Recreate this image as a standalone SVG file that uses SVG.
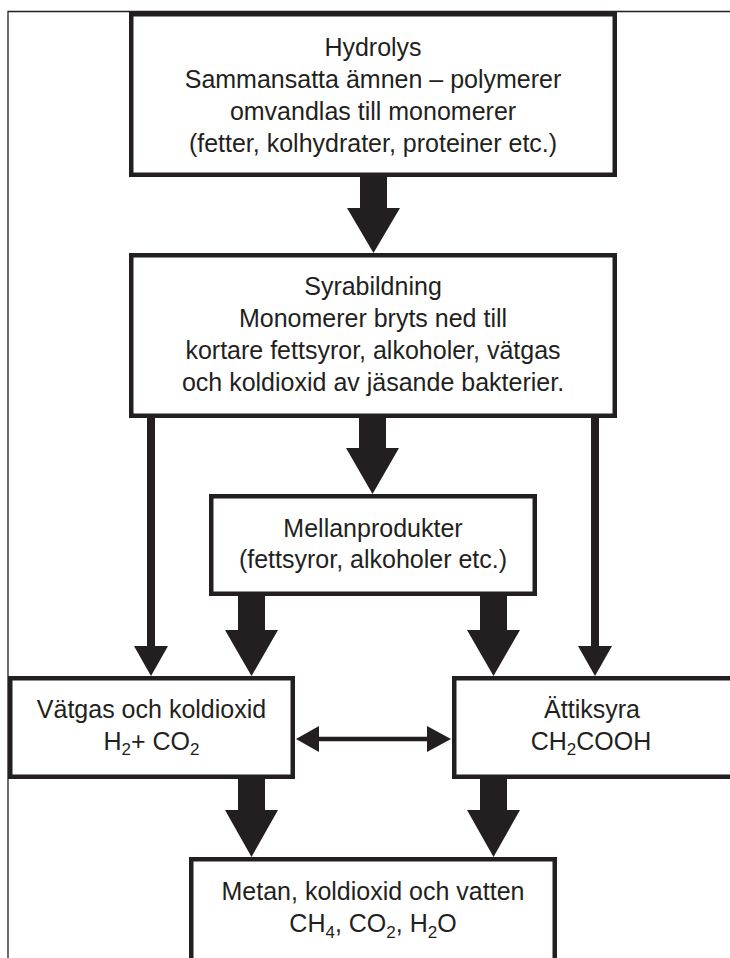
<svg xmlns="http://www.w3.org/2000/svg" width="730" height="958" viewBox="0 0 730 958">
<defs>
<style>
.box{fill:#fff;stroke:#231f20;stroke-width:4.5}
.t{font-family:'Liberation Sans',Arial,sans-serif;font-size:25px;fill:#231f20;text-anchor:middle}
.s{font-size:17px}
.ar{fill:#231f20}
.thin{stroke:#231f20;stroke-width:8;fill:none}
.frame{stroke:#231f20;stroke-width:1.3;fill:none}
</style>
</defs>
<rect width="730" height="958" fill="#fff"/>
<path class="frame" d="M8,958 V11.5 H730"/>
<g id="connectors">
<path class="ar" d="M360,177 H387 V208 H400 L373.5,253 L347,208 H360 Z"/>
<path class="ar" d="M359,418 H386 V448 H399 L372.5,494 L346,448 H359 Z"/>
<path class="ar" d="M238,596 H265 V630 H278 L251.5,676 L225,630 H238 Z"/>
<path class="ar" d="M480,596 H507 V630 H520 L493.5,676 L467,630 H480 Z"/>
<path class="ar" d="M238,779 H265 V810 H278 L251.5,857 L225,810 H238 Z"/>
<path class="ar" d="M480,779 H507 V810 H520 L493.5,857 L467,810 H480 Z"/>
<line class="thin" x1="151" y1="418" x2="151" y2="650"/>
<path class="ar" d="M134,646 H168 L151,676 Z"/>
<line class="thin" x1="595" y1="418" x2="595" y2="650"/>
<path class="ar" d="M578,646 H612 L595,676 Z"/>
<line x1="315" y1="739" x2="431" y2="739" stroke="#231f20" stroke-width="4.5"/>
<path class="ar" d="M296,739 L319,726 V752 Z"/>
<path class="ar" d="M451,739 L427,726 V752 Z"/>
</g>
<g id="hydrolys">
<rect class="box" x="131.25" y="14.25" width="483.5" height="160.5"/>
<text class="t" x="373" y="56">Hydrolys</text>
<text class="t" x="373" y="88">Sammansatta ämnen – polymerer</text>
<text class="t" x="373" y="120">omvandlas till monomerer</text>
<text class="t" x="373" y="152">(fetter, kolhydrater, proteiner etc.)</text>
</g>
<g id="syrabildning">
<rect class="box" x="131.25" y="255.25" width="483.5" height="160.5"/>
<text class="t" x="373" y="295">Syrabildning</text>
<text class="t" x="373" y="327">Monomerer bryts ned till</text>
<text class="t" x="373" y="359">kortare fettsyror, alkoholer, vätgas</text>
<text class="t" x="373" y="391">och koldioxid av jäsande bakterier.</text>
</g>
<g id="mellanprodukter">
<rect class="box" x="211.25" y="496.25" width="323.5" height="97.5"/>
<text class="t" x="373" y="537">Mellanprodukter</text>
<text class="t" x="373" y="568">(fettsyror, alkoholer etc.)</text>
</g>
<g id="vatgas">
<rect class="box" x="10.25" y="678.25" width="282.5" height="98.5"/>
<text class="t" x="151.5" y="718">Vätgas och koldioxid</text>
<text class="t" x="151.5" y="750">H<tspan class="s" dy="5">2</tspan><tspan dy="-5">+ CO</tspan><tspan class="s" dy="5">2</tspan></text>
</g>
<g id="attiksyra">
<rect class="box" x="454.25" y="678.25" width="300" height="98.5"/>
<text class="t" x="592" y="718">Ättiksyra</text>
<text class="t" x="591" y="750">CH<tspan class="s" dy="5">2</tspan><tspan dy="-5">COOH</tspan></text>
</g>
<g id="metan">
<rect class="box" x="191.25" y="859.25" width="363.5" height="115"/>
<text class="t" x="373" y="900">Metan, koldioxid och vatten</text>
<text class="t" x="373" y="932">CH<tspan class="s" dy="6">4</tspan><tspan dy="-6">, CO</tspan><tspan class="s" dy="6">2</tspan><tspan dy="-6">, H</tspan><tspan class="s" dy="6">2</tspan><tspan dy="-6">O</tspan></text>
</g>
</svg>
